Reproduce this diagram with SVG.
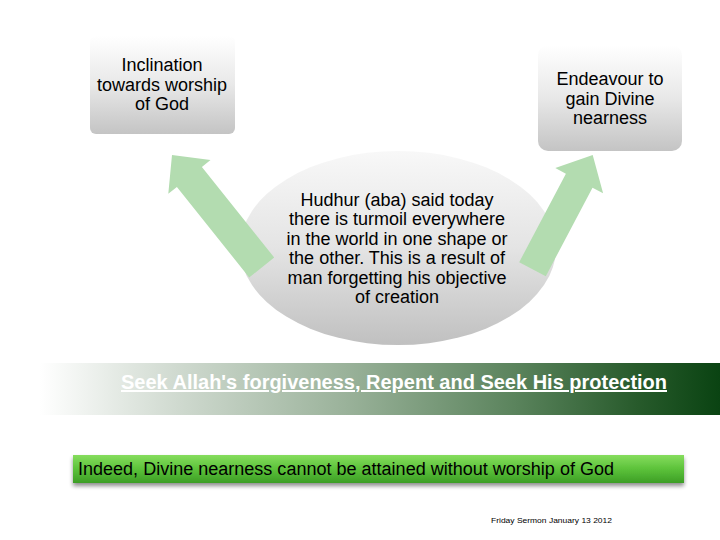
<svg xmlns="http://www.w3.org/2000/svg" width="720" height="540" viewBox="0 0 720 540">
<defs>
<linearGradient id="boxG" x1="0" y1="0" x2="0" y2="1">
<stop offset="0" stop-color="#ffffff"/>
<stop offset="0.5" stop-color="#e8e8e8"/>
<stop offset="1" stop-color="#c4c4c4"/>
</linearGradient>
<linearGradient id="ellG" x1="0" y1="0" x2="0" y2="1">
<stop offset="0" stop-color="#f8f8f8"/>
<stop offset="0.5" stop-color="#e4e4e4"/>
<stop offset="1" stop-color="#c0c0c0"/>
</linearGradient>
<linearGradient id="banG" x1="0" y1="0" x2="1" y2="0">
<stop offset="0" stop-color="#ffffff"/>
<stop offset="0.2" stop-color="#d0dad0"/>
<stop offset="0.45" stop-color="#9ab29a"/>
<stop offset="0.7" stop-color="#5a835c"/>
<stop offset="0.88" stop-color="#275a2b"/>
<stop offset="1" stop-color="#0a4312"/>
</linearGradient>
<linearGradient id="grnG" x1="0" y1="0" x2="0" y2="1">
<stop offset="0" stop-color="#86dd5e"/>
<stop offset="0.5" stop-color="#5cc23a"/>
<stop offset="1" stop-color="#3c9e26"/>
</linearGradient>
<filter id="sh" x="-5%" y="-30%" width="110%" height="180%">
<feGaussianBlur in="SourceAlpha" stdDeviation="2"/>
<feOffset dx="0" dy="3" result="b"/>
<feComponentTransfer><feFuncA type="linear" slope="0.45"/></feComponentTransfer>
<feMerge><feMergeNode/><feMergeNode in="SourceGraphic"/></feMerge>
</filter>
</defs>
<style>
.t{font-family:"Liberation Sans",Arial,sans-serif;font-size:18px;fill:#000;text-anchor:middle}
.arr{fill:#b3dcb0}
</style>
<rect width="720" height="540" fill="#ffffff"/>
<g id="node-left">
<rect x="90" y="36" width="145" height="98" rx="6" fill="url(#boxG)"/>
<text class="t" x="162" y="71">Inclination</text>
<text class="t" x="162" y="91">towards worship</text>
<text class="t" x="162" y="110">of God</text>
</g>
<g id="node-right">
<rect x="538" y="45" width="144" height="106" rx="10" fill="url(#boxG)"/>
<text class="t" x="610" y="85">Endeavour to</text>
<text class="t" x="610" y="105">gain Divine</text>
<text class="t" x="610" y="124">nearness</text>
</g>
<g id="node-center">
<ellipse cx="398" cy="248" rx="158" ry="97" fill="url(#ellG)"/>
</g>
<g id="connectors">
<polygon class="arr" points="249.2,277.5 176.9,186.9 168.3,193.7 172,155 210.5,160.1 201.9,166.9 274.2,257.5"/>
<polygon class="arr" points="519.2,262.2 565.9,173.7 555.3,168.1 592.7,155 603.1,193.3 592.5,187.7 545.8,276.2"/>
</g>
<g id="node-center-text">
<text class="t" x="397" y="206">Hudhur (aba) said today</text>
<text class="t" x="397" y="225">there is turmoil everywhere</text>
<text class="t" x="397" y="245">in the world in one shape or</text>
<text class="t" x="397" y="264">the other. This is a result of</text>
<text class="t" x="397" y="284">man forgetting his objective</text>
<text class="t" x="397" y="303">of creation</text>
</g>
<g id="banner">
<rect x="40" y="363" width="680" height="52" fill="url(#banG)"/>
<text x="121" y="389" font-family="'Liberation Sans',Arial,sans-serif" font-size="20" font-weight="bold" fill="#ffffff" text-decoration="underline" textLength="546" lengthAdjust="spacingAndGlyphs">Seek Allah's forgiveness, Repent and Seek His protection</text>
</g>
<g id="conclusion">
<rect x="73" y="455" width="611" height="28" fill="url(#grnG)" filter="url(#sh)"/>
<text x="78" y="475" font-family="'Liberation Sans',Arial,sans-serif" font-size="18" fill="#000" textLength="536" lengthAdjust="spacingAndGlyphs">Indeed, Divine nearness cannot be attained without worship of God</text>
</g>
<g id="footer">
<text x="491" y="523" font-family="'Liberation Sans',Arial,sans-serif" font-size="7" fill="#000" textLength="121" lengthAdjust="spacingAndGlyphs">Friday Sermon January 13 2012</text>
</g>
</svg>
